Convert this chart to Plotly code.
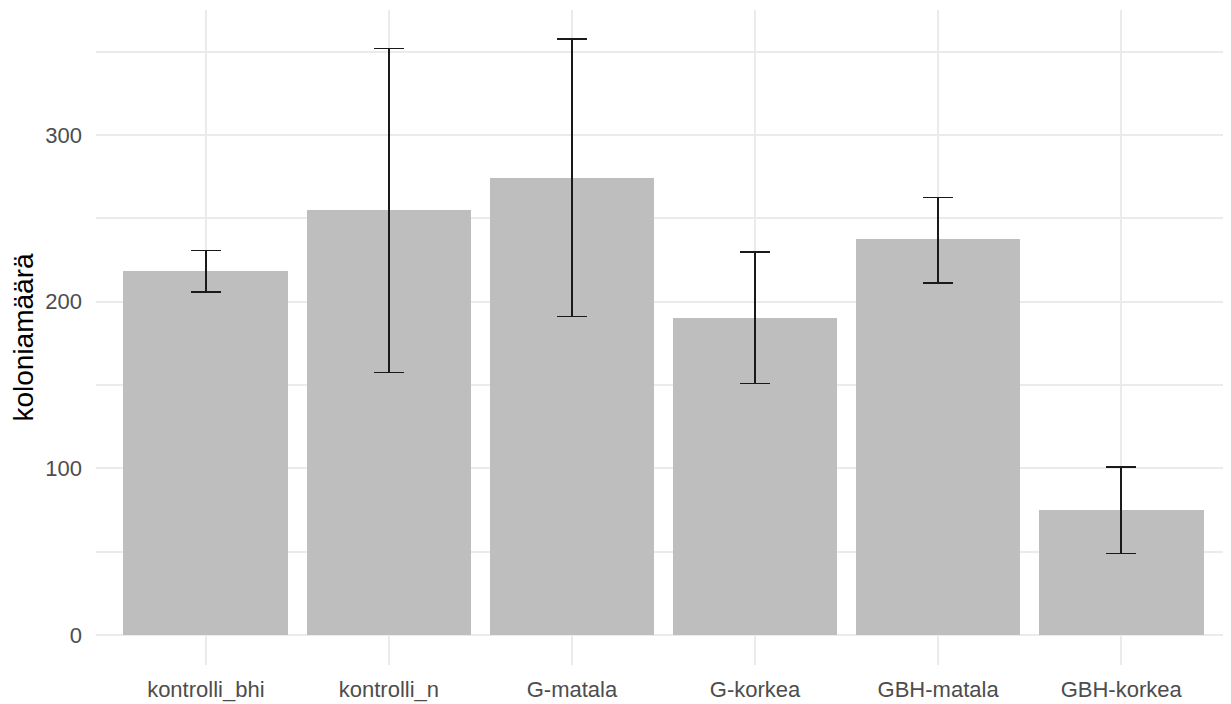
import plotly.graph_objects as go

categories = ["kontrolli_bhi", "kontrolli_n", "G-matala", "G-korkea", "GBH-matala", "GBH-korkea"]
means = [218.6, 255.0, 274.3, 190.5, 237.6, 75.0]
err_plus = [12.2, 96.8, 83.2, 39.2, 24.8, 25.8]
err_minus = [12.8, 97.4, 83.1, 39.6, 26.4, 26.2]
y_ticks = [0, 100, 200, 300]
y_minor = [50, 150, 250, 350]

fig = go.Figure()
fig.add_trace(go.Bar(
    x=categories, y=means, width=0.9,
    marker=dict(color="#BEBEBE", line=dict(width=0)),
    error_y=dict(type="data", symmetric=False, array=err_plus, arrayminus=err_minus,
                 color="#1a1a1a", thickness=1.6, width=15),
    showlegend=False,
))

font_family = "Liberation Sans, Arial, sans-serif"
# the page body has an 8px margin, so the figure is sized to fit the window
fig.update_layout(
    width=1223, height=696,
    margin=dict(l=88, r=0, t=2, b=39),
    plot_bgcolor="white", paper_bgcolor="white",
    font=dict(family=font_family),
    bargap=0,
)
fig.update_xaxes(
    range=[-0.6, 5.6], showgrid=True, gridcolor="#EBEBEB", gridwidth=1.5,
    zeroline=False, showline=False, ticks="", automargin=False,
    tickfont=dict(size=22, color="#4D4D4D"), ticklabelstandoff=9,
)
fig.update_yaxes(
    range=[-18, 375], tickvals=y_ticks, showgrid=True, gridcolor="#EBEBEB", gridwidth=1.5,
    minor=dict(tickvals=y_minor, showgrid=True, gridcolor="#EBEBEB", gridwidth=1.5),
    zeroline=False, showline=False, ticks="", automargin=False,
    tickfont=dict(size=22, color="#4D4D4D"), ticklabelstandoff=13,
    title=dict(text="koloniamäärä", font=dict(size=28, color="black"), standoff=17),
)

fig.write_html("out.html")
